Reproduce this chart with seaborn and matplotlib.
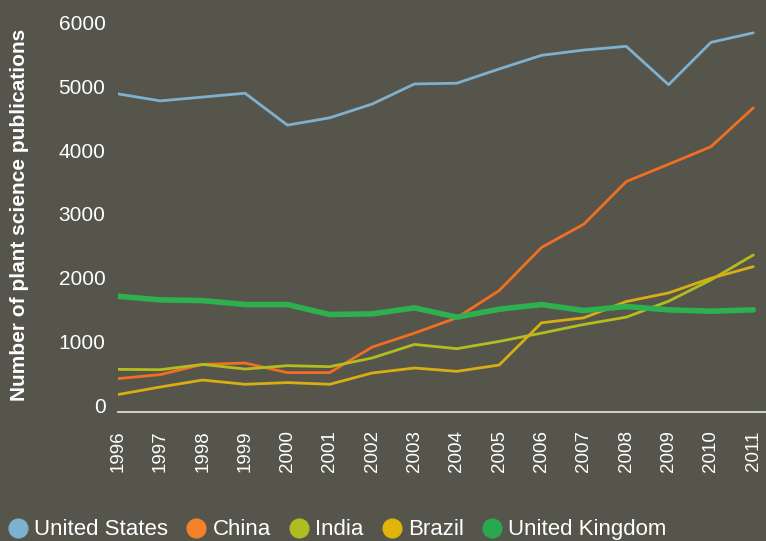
import pandas as pd
import seaborn as sns
import matplotlib
matplotlib.use("Agg")
import matplotlib.pyplot as plt
from matplotlib.lines import Line2D

# --------------------------------------------------------------------------- #
# Data
# --------------------------------------------------------------------------- #
YEARS = list(range(1996, 2012))

US = [4880, 4770, 4830, 4890, 4390, 4505, 4720, 5035,
      5047, 5270, 5484, 5567, 5625, 5023, 5687, 5836]
CHINA = [417, 480, 640, 661, 511, 511, 911, 1130,
         1370, 1797, 2473, 2838, 3505, 3776, 4052, 4661]
INDIA = [562, 557, 640, 567, 620, 604, 740, 953,
         886, 1000, 1130, 1266, 1380, 1630, 1964, 2355]
BRAZIL = [167, 286, 395, 328, 355, 328, 505, 583,
          531, 630, 1292, 1370, 1625, 1760, 1990, 2172]
UK = [1708, 1651, 1640, 1578, 1578, 1422, 1432, 1526,
      1380, 1505, 1578, 1484, 1547, 1495, 1474, 1495]

COUNTRIES = ["United States", "China", "India", "Brazil", "United Kingdom"]
SERIES = [US, CHINA, INDIA, BRAZIL, UK]

Y_TICKS = [0, 1000, 2000, 3000, 4000, 5000, 6000]

# --------------------------------------------------------------------------- #
# Style
# --------------------------------------------------------------------------- #
BG = "#56554b"
LINE_COLORS = {
    "United States": "#7fb1cf",
    "China": "#f26f22",
    "India": "#b3bd1f",
    "Brazil": "#d9ae14",
    "United Kingdom": "#2eb04f",
}
LEGEND_COLORS = ["#7eb1d0", "#f5822a", "#afbd22", "#e1b40c", "#2aa84f"]

sns.set_theme(style="white")
plt.rcParams["font.family"] = ["Liberation Sans", "DejaVu Sans"]

df = pd.DataFrame(
    [(y, c, v) for c, vals in zip(COUNTRIES, SERIES) for y, v in zip(YEARS, vals)],
    columns=["year", "country", "pubs"],
)

fig = plt.figure(figsize=(7.66, 5.41), dpi=100, facecolor=BG)
ax = fig.add_axes([0.154, 0.238, 0.846, 0.743])
ax.set_facecolor(BG)

sns.lineplot(
    data=df, x="year", y="pubs", hue="country", hue_order=COUNTRIES,
    palette=LINE_COLORS, size="country",
    sizes={c: (4.0 if c == "United Kingdom" else 2.0) for c in COUNTRIES},
    ax=ax, legend=False,
)
for ln in ax.lines:
    ln.set_solid_capstyle("round")

ax.set_xlim(1996, 2011.3)
ax.set_ylim(-110, 6190)
ax.set_xticks(YEARS)
ax.set_xticklabels([str(y) for y in YEARS], rotation=90, fontsize=13.5, color="white")
ax.set_yticks(Y_TICKS)
ax.set_yticklabels([str(t) for t in Y_TICKS], fontsize=15, color="white")
ax.tick_params(axis="both", length=0)
ax.tick_params(axis="x", pad=13)
ax.tick_params(axis="y", pad=9)
ax.set_xlabel("")
ax.set_ylabel("Number of plant science publications", fontsize=15,
              fontweight="bold", color="white")
ax.yaxis.set_label_coords(-0.137, 0.49)

for side in ["left", "right", "top"]:
    ax.spines[side].set_visible(False)
ax.spines["bottom"].set_color("#e8e8e8")
ax.spines["bottom"].set_linewidth(1.2)
ax.grid(False)

# legend with round swatches along the bottom edge
handles = [
    Line2D([], [], linestyle="none", marker="o", markersize=13.5,
           markerfacecolor=c, markeredgecolor=c)
    for c in LEGEND_COLORS
]
leg = fig.legend(
    handles, COUNTRIES, loc="lower left", bbox_to_anchor=(-0.015, -0.036),
    ncol=5, frameon=False, fontsize=16, handlelength=0.85,
    handletextpad=0.3, columnspacing=0.85, labelcolor="white",
)

fig.savefig("out.png", dpi=100, facecolor=BG)
